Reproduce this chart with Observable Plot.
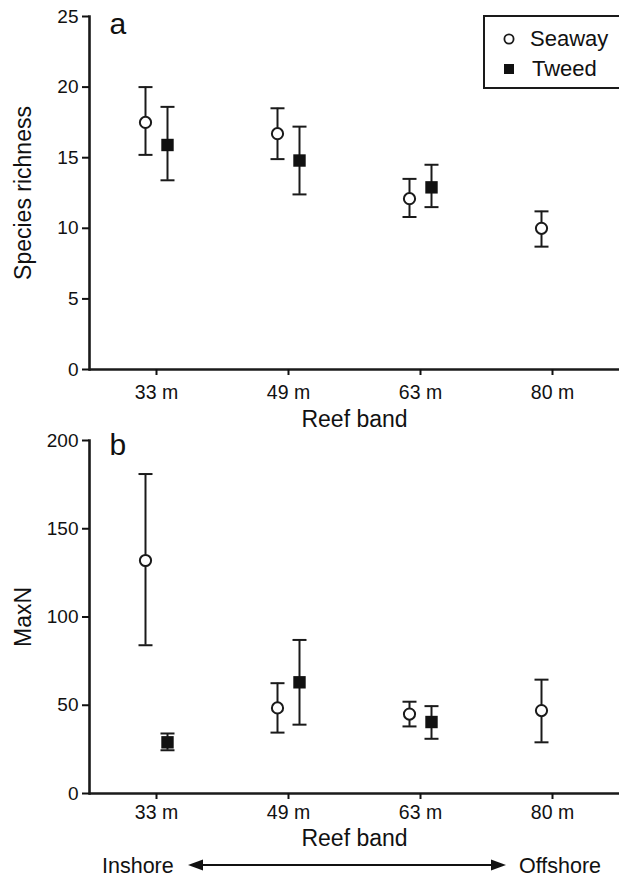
<!DOCTYPE html>
<html>
<head>
<meta charset="utf-8">
<script src="https://cdn.jsdelivr.net/npm/d3@7"></script>
<script src="https://cdn.jsdelivr.net/npm/@observablehq/plot@0.6"></script>
<style>
  body { margin: 0; background: #fff; overflow: hidden; }
  #wrap { position: relative; width: 619px; height: 878px; overflow: hidden; font-family: "Liberation Sans", Arial, sans-serif; color: #111; }
  #wrap svg { display: block; }
  .abs { position: absolute; }
</style>
</head>
<body>
<div id="wrap">
  <div id="panelA" class="abs" style="left:0;top:0;"></div>
  <div id="panelB" class="abs" style="left:0;top:430px;"></div>
  <svg id="legend" class="abs" style="left:483px;top:15px;overflow:hidden" width="136" height="74">
    <rect x="1" y="1" width="160" height="72" fill="#fff" stroke="#1a1a1a" stroke-width="2"></rect>
    <circle cx="26" cy="24" r="4.6" fill="#fff" stroke="#1a1a1a" stroke-width="1.8"></circle>
    <rect x="21" y="49" width="10" height="10" fill="#111"></rect>
    <text x="47" y="31" font-size="22" font-family="Liberation Sans, Arial, sans-serif" fill="#111">Seaway</text>
    <text x="49" y="61" font-size="22" font-family="Liberation Sans, Arial, sans-serif" fill="#111">Tweed</text>
  </svg>
  <svg id="arrowRow" class="abs" style="left:0;top:850px;" width="619" height="28">
    <text x="102" y="22.5" font-size="21.5" font-family="Liberation Sans, Arial, sans-serif" fill="#111">Inshore</text>
    <line x1="198" y1="15" x2="496" y2="15" stroke="#111" stroke-width="2"></line>
    <path d="M188,15 L203,9.5 L203,20.5 Z" fill="#111"></path>
    <path d="M506,15 L491,9.5 L491,20.5 Z" fill="#111"></path>
    <text x="519" y="22.5" font-size="21.5" font-family="Liberation Sans, Arial, sans-serif" fill="#111">Offshore</text>
  </svg>
</div>
<script>
// ---- categories ----
const bands = ["33 m", "49 m", "63 m", "80 m"];
const tweedBands = ["33 m", "49 m", "63 m"];

// ---- panel a: species richness (mean, lower, upper) ----
const richSeawayMean = [17.5, 16.7, 12.1, 10.0];
const richSeawayLo   = [15.2, 14.9, 10.8, 8.7];
const richSeawayHi   = [20.0, 18.5, 13.5, 11.2];
const richTweedMean  = [15.9, 14.8, 12.9];
const richTweedLo    = [13.4, 12.4, 11.5];
const richTweedHi    = [18.6, 17.2, 14.5];
const richTicks = [0, 5, 10, 15, 20, 25];

// ---- panel b: MaxN (mean, lower, upper) ----
const maxnSeawayMean = [132, 48.5, 45, 47];
const maxnSeawayLo   = [84, 34.5, 38, 29];
const maxnSeawayHi   = [181, 62.5, 52, 64.5];
const maxnTweedMean  = [29, 63, 40.5];
const maxnTweedLo    = [24.5, 39, 31];
const maxnTweedHi    = [34, 87, 49.5];
const maxnTicks = [0, 50, 100, 150, 200];

const ink = "#1a1a1a";
const font = "Liberation Sans, Arial, sans-serif";

function rows(cats, mean, lo, hi) {
  return cats.map((b, i) => ({band: b, mean: mean[i], lo: lo[i], hi: hi[i]}));
}

const capSymbol = {
  draw(context, size) {
    const r = Math.sqrt(size / Math.PI);
    context.moveTo(-r, 0);
    context.lineTo(r, 0);
  }
};

function seriesMarks(data, dx, symbol, r, fill) {
  return [
    Plot.ruleX(data, {x: "band", y1: "lo", y2: "hi", dx, stroke: ink, strokeWidth: 2}),
    Plot.dot(data, {x: "band", y: "hi", dx, symbol: capSymbol, r: 7, stroke: ink, strokeWidth: 2}),
    Plot.dot(data, {x: "band", y: "lo", dx, symbol: capSymbol, r: 7, stroke: ink, strokeWidth: 2}),
    symbol === "circle"
      ? Plot.dot(data, {x: "band", y: "mean", dx, r, fill, stroke: ink, strokeWidth: 2})
      : Plot.dot(data, {x: "band", y: "mean", dx, symbol, r, fill, stroke: "none"})
  ];
}

function panel({seaway, tweed, domain, ticks, yLabel, letter, height, marginTop, marginBottom, tickPad, labelDy, letterDy}) {
  return Plot.plot({
    width: 619,
    height,
    marginLeft: 89,
    marginRight: 0,
    marginTop,
    marginBottom,
    style: {fontFamily: font, fontSize: "19px", color: "#111", background: "#fff", overflow: "visible"},
    x: {type: "point", domain: bands, padding: 0.5},
    y: {domain, ticks},
    marks: [
      Plot.ruleY([0], {stroke: ink, strokeWidth: 2.6}),
      Plot.frame({anchor: "left", stroke: ink, strokeWidth: 2.6}),
      Plot.axisY({ticks, tickSize: 7, tickPadding: 4, fontSize: 19, strokeWidth: 2, label: null, fill: "#111"}),
      Plot.axisX({tickSize: 6, tickPadding: tickPad, fontSize: 19.5, strokeWidth: 2, label: null, fill: "#111"}),
      ...seriesMarks(seaway, -11, "circle", 5.6, "#fff"),
      ...seriesMarks(tweed, 11, "square", 7, "#111"),
      Plot.text(["Reef band"], {frameAnchor: "bottom", dy: labelDy, fontSize: 23, textAnchor: "middle", lineAnchor: "middle", fill: "#111", style: "letter-spacing:1px"}),
      Plot.text([yLabel], {frameAnchor: "left", dx: -66, rotate: -90, fontSize: 23, textAnchor: "middle", lineAnchor: "middle", fill: "#111", style: "letter-spacing:1px"}),
      Plot.text([letter], {frameAnchor: "top-left", dx: 20, dy: letterDy, textAnchor: "start", lineAnchor: "middle", fontSize: 30, fill: "#111"})
    ]
  });
}

const chartA = panel({
  seaway: rows(bands, richSeawayMean, richSeawayLo, richSeawayHi),
  tweed: rows(tweedBands, richTweedMean, richTweedLo, richTweedHi),
  domain: [0, 25], ticks: richTicks, yLabel: "Species richness", letter: "a",
  height: 430, marginTop: 16, marginBottom: 61, tickPad: 10, labelDy: 50, letterDy: 8
});
const chartB = panel({
  seaway: rows(bands, maxnSeawayMean, maxnSeawayLo, maxnSeawayHi),
  tweed: rows(tweedBands, maxnTweedMean, maxnTweedLo, maxnTweedHi),
  domain: [0, 200], ticks: maxnTicks, yLabel: "MaxN", letter: "b",
  height: 420, marginTop: 10, marginBottom: 57, tickPad: 6, labelDy: 45, letterDy: 5
});
document.getElementById("panelA").appendChild(chartA);
document.getElementById("panelB").appendChild(chartB);
// legend on top of the plot
document.getElementById("wrap").appendChild(document.getElementById("legend"));
</script>
</body>
</html>
